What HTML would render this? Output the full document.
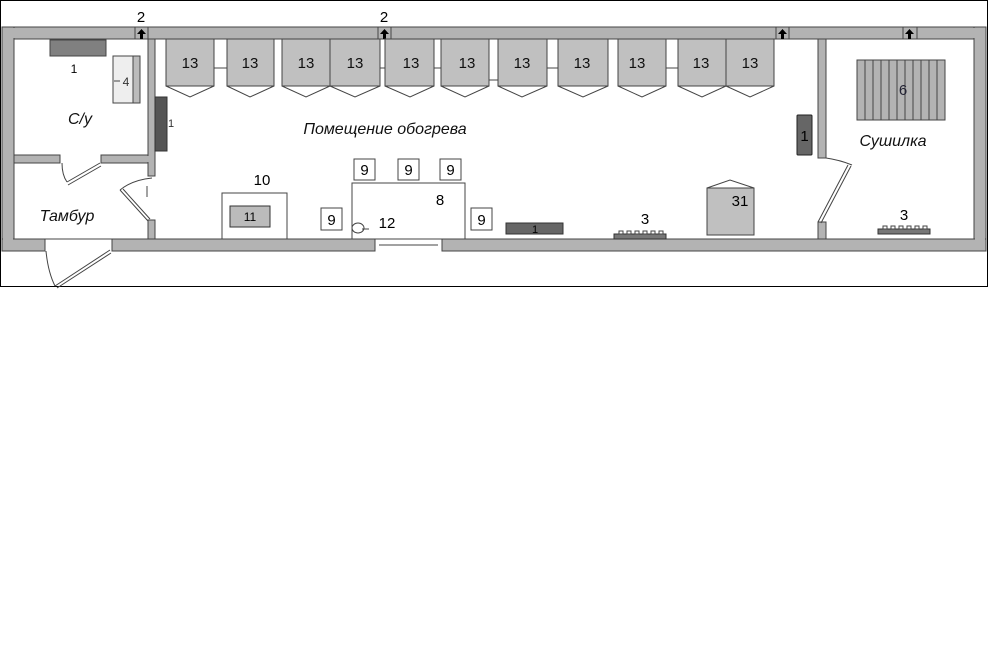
<!DOCTYPE html>
<html><head><meta charset="utf-8"><style>
html,body{margin:0;padding:0;background:#fff;}
svg{display:block;}
text{font-family:"Liberation Sans",sans-serif;}
</style></head><body>
<svg width="990" height="647" viewBox="0 0 990 647" xmlns="http://www.w3.org/2000/svg">
<rect x="0.5" y="0.5" width="987" height="286" fill="#fff" stroke="#000"/>
<g fill="#b3b3b3" stroke="#444" stroke-width="1">
<!-- top wall -->
<rect x="2" y="27" width="984" height="12"/>
<!-- left wall -->
<rect x="2" y="27" width="12" height="224"/>
<!-- right wall -->
<rect x="974" y="27" width="12" height="224"/>
<!-- bottom wall segments -->
<rect x="2" y="239" width="43" height="12"/>
<rect x="112" y="239" width="263" height="12"/>
<rect x="442" y="239" width="544" height="12"/>
<!-- left partition -->
<rect x="148" y="39" width="7" height="137"/>
<rect x="148" y="220" width="7" height="19"/>
<!-- horizontal between С/у and Тамбур -->
<rect x="14" y="155" width="46" height="8"/>
<rect x="101" y="155" width="47" height="8"/>
<!-- right partition -->
<rect x="818" y="39" width="8" height="119"/>
<rect x="818" y="222" width="8" height="17"/>
</g>
<!-- fill over wall junctions -->
<g fill="#b3b3b3">
<rect x="3" y="28" width="10" height="222"/>
<rect x="3" y="28" width="982" height="10"/>
<rect x="975" y="28" width="10" height="222"/>
<rect x="149" y="37" width="5" height="4"/>
<rect x="819" y="37" width="6" height="4"/>
<rect x="12" y="156" width="4" height="6"/>
<rect x="146" y="156" width="4" height="6"/>
<rect x="149" y="237" width="5" height="4"/>
<rect x="819" y="237" width="6" height="4"/>
</g>
<g fill="none" stroke="#444">
<rect x="14" y="39" width="960" height="200" fill="none"/>
<line x1="2" y1="27" x2="986" y2="27"/>
<line x1="2" y1="251" x2="45" y2="251"/>
<line x1="112" y1="251" x2="375" y2="251"/>
<line x1="442" y1="251" x2="986" y2="251"/>
<line x1="2" y1="27" x2="2" y2="251"/>
<line x1="986" y1="27" x2="986" y2="251"/>
</g>
<!-- vents "2" -->
<g fill="#b3b3b3" stroke="#444">
<rect x="135" y="27" width="13" height="12"/>
<rect x="378" y="27" width="13" height="12"/>
<rect x="776" y="27" width="13" height="12"/>
<rect x="903" y="27" width="14" height="12"/>
</g>
<g fill="#000">
<path d="M137 34 L141.5 29 L146 34 L143 34 L143 39 L140 39 L140 34Z"/>
<path d="M380 34 L384.5 29 L389 34 L386 34 L386 39 L383 39 L383 34Z"/>
<path d="M778 34 L782.5 29 L787 34 L784 34 L784 39 L781 39 L781 34Z"/>
<path d="M905 34 L909.5 29 L914 34 L911 34 L911 39 L908 39 L908 34Z"/>
</g>
<text x="141" y="22" font-size="15" text-anchor="middle">2</text>
<text x="384" y="22" font-size="15" text-anchor="middle">2</text>
<!-- units 13 -->
<g stroke="#444" stroke-width="1">
<line x1="214" y1="68" x2="227" y2="68"/>
<line x1="380" y1="68" x2="385" y2="68"/>
<line x1="434" y1="68" x2="441" y2="68"/>
<line x1="489" y1="80" x2="498" y2="80"/>
<line x1="547" y1="68" x2="558" y2="68"/>
<line x1="666" y1="68" x2="678" y2="68"/>
</g>
<g fill="#c0c0c0" stroke="#444" stroke-width="1">
<rect x="166" y="39" width="48" height="47"/>
<rect x="227" y="39" width="47" height="47"/>
<rect x="282" y="39" width="48" height="47"/>
<rect x="330" y="39" width="50" height="47"/>
<rect x="385" y="39" width="49" height="47"/>
<rect x="441" y="39" width="48" height="47"/>
<rect x="498" y="39" width="49" height="47"/>
<rect x="558" y="39" width="50" height="47"/>
<rect x="618" y="39" width="48" height="47"/>
<rect x="678" y="39" width="48" height="47"/>
<rect x="726" y="39" width="48" height="47"/>
</g>
<g fill="none" stroke="#444">
<polyline points="166,86 190,97 214,86"/>
<polyline points="227,86 250,97 274,86"/>
<polyline points="282,86 306,97 330,86"/>
<polyline points="330,86 355,97 380,86"/>
<polyline points="385,86 410,97 434,86"/>
<polyline points="441,86 465,97 489,86"/>
<polyline points="498,86 522,97 547,86"/>
<polyline points="558,86 583,97 608,86"/>
<polyline points="618,86 642,97 666,86"/>
<polyline points="678,86 702,97 726,86"/>
<polyline points="726,86 750,97 774,86"/>
</g>
<g font-size="15" text-anchor="middle" fill="#111">
<text x="190" y="68">13</text><text x="250" y="68">13</text><text x="306" y="68">13</text>
<text x="355" y="68">13</text><text x="411" y="68">13</text><text x="467" y="68">13</text>
<text x="522" y="68">13</text><text x="582" y="68">13</text><text x="637" y="68">13</text>
<text x="701" y="68">13</text><text x="750" y="68">13</text>
</g>
<!-- С/у items -->
<rect x="50" y="40" width="56" height="16" fill="#808080" stroke="#444"/>
<text x="74" y="73" font-size="12" text-anchor="middle">1</text>
<rect x="113" y="56" width="27" height="47" fill="#eee" stroke="#444"/>
<rect x="133" y="56" width="7" height="47" fill="#bbb" stroke="#444"/>
<line x1="114" y1="81" x2="120" y2="81" stroke="#444"/>
<text x="126" y="86" font-size="12" text-anchor="middle" fill="#333">4</text>
<rect x="155" y="97" width="12" height="54" fill="#555" stroke="#333"/>
<text x="168" y="127" font-size="11" fill="#333">1</text>
<text x="80" y="124" font-size="16" font-style="italic" text-anchor="middle" fill="#111">С/у</text>
<text x="67" y="221" font-size="16" font-style="italic" text-anchor="middle" fill="#111">Тамбур</text>
<text x="385" y="134" font-size="16" font-style="italic" text-anchor="middle" fill="#111">Помещение обогрева</text>
<text x="893" y="146" font-size="16" font-style="italic" text-anchor="middle" fill="#111">Сушилка</text>
<!-- doors -->
<g fill="none" stroke="#444">
<path d="M62 163 Q62 175 67 182"/>
<path d="M100 163 L67 182 M101 166 L68 185"/>
<path d="M46 251 Q48 272 55 286"/>
<path d="M110 250 L55 286 M111 253 L57 288"/>
<path d="M152 178 Q132 180 120 190"/>
<path d="M120 190 L148 221 M123 189 L150 219"/>
<line x1="147" y1="186" x2="147" y2="197"/>
<path d="M826 158 Q840 160 852 165"/>
<path d="M818 222 L848 165 M821 223 L851 166"/>
<line x1="379" y1="245" x2="438" y2="245"/>
</g>
<!-- 10/11 -->
<text x="262" y="185" font-size="15" text-anchor="middle">10</text>
<rect x="222" y="193" width="65" height="46" fill="#fff" stroke="#444"/>
<rect x="230" y="206" width="40" height="21" fill="#bbb" stroke="#333"/>
<text x="250" y="221" font-size="12" text-anchor="middle">11</text>
<!-- 8 -->
<rect x="352" y="183" width="113" height="56" fill="#fff" stroke="#444"/>
<text x="440" y="205" font-size="15" text-anchor="middle">8</text>
<text x="387" y="228" font-size="15" text-anchor="middle">12</text>
<ellipse cx="358" cy="228" rx="6" ry="5" fill="none" stroke="#444"/>
<line x1="362" y1="229" x2="369" y2="229" stroke="#444"/>
<g fill="#fff" stroke="#444">
<rect x="354" y="159" width="21" height="21"/><rect x="398" y="159" width="21" height="21"/>
<rect x="440" y="159" width="21" height="21"/><rect x="321" y="208" width="21" height="22"/>
<rect x="471" y="208" width="21" height="22"/>
</g>
<g font-size="15" text-anchor="middle">
<text x="364.5" y="175">9</text><text x="408.5" y="175">9</text><text x="450.5" y="175">9</text>
<text x="331.5" y="225">9</text><text x="481.5" y="225">9</text>
</g>
<rect x="506" y="223" width="57" height="11" fill="#666" stroke="#333"/>
<text x="535" y="233" font-size="11" text-anchor="middle">1</text>
<!-- heaters 3 -->
<text x="645" y="224" font-size="15" text-anchor="middle">3</text>
<rect x="614" y="234" width="52" height="5" fill="#777" stroke="#333"/>
<g fill="#fff" stroke="#444"><rect x="619" y="231" width="4" height="3"/><rect x="627" y="231" width="4" height="3"/><rect x="635" y="231" width="4" height="3"/><rect x="643" y="231" width="4" height="3"/><rect x="651" y="231" width="4" height="3"/><rect x="659" y="231" width="4" height="3"/></g>
<text x="904" y="220" font-size="15" text-anchor="middle">3</text>
<rect x="878" y="229" width="52" height="5" fill="#777" stroke="#333"/>
<g fill="#fff" stroke="#444"><rect x="883" y="226" width="4" height="3"/><rect x="891" y="226" width="4" height="3"/><rect x="899" y="226" width="4" height="3"/><rect x="907" y="226" width="4" height="3"/><rect x="915" y="226" width="4" height="3"/><rect x="923" y="226" width="4" height="3"/></g>
<!-- 31 -->
<rect x="707" y="188" width="47" height="47" fill="#c0c0c0" stroke="#444"/>
<polyline points="707,188 730,180 754,188" fill="none" stroke="#444"/>
<text x="740" y="206" font-size="15" text-anchor="middle">31</text>
<!-- 1 right -->
<rect x="797" y="115" width="15" height="40" rx="1" fill="#666" stroke="#222"/>
<text x="804.5" y="141" font-size="15" text-anchor="middle">1</text>
<!-- 6 -->
<rect x="857" y="60" width="88" height="60" fill="#b3b3b3" stroke="#444"/>
<g stroke="#444">
<line x1="865" y1="60" x2="865" y2="120"/><line x1="873" y1="60" x2="873" y2="120"/>
<line x1="881" y1="60" x2="881" y2="120"/><line x1="889" y1="60" x2="889" y2="120"/>
<line x1="897" y1="60" x2="897" y2="120"/><line x1="905" y1="60" x2="905" y2="120"/>
<line x1="913" y1="60" x2="913" y2="120"/><line x1="921" y1="60" x2="921" y2="120"/>
<line x1="929" y1="60" x2="929" y2="120"/><line x1="937" y1="60" x2="937" y2="120"/>
</g>
<text x="903" y="95" font-size="15" text-anchor="middle" fill="#223">6</text>
</svg>
</body></html>
